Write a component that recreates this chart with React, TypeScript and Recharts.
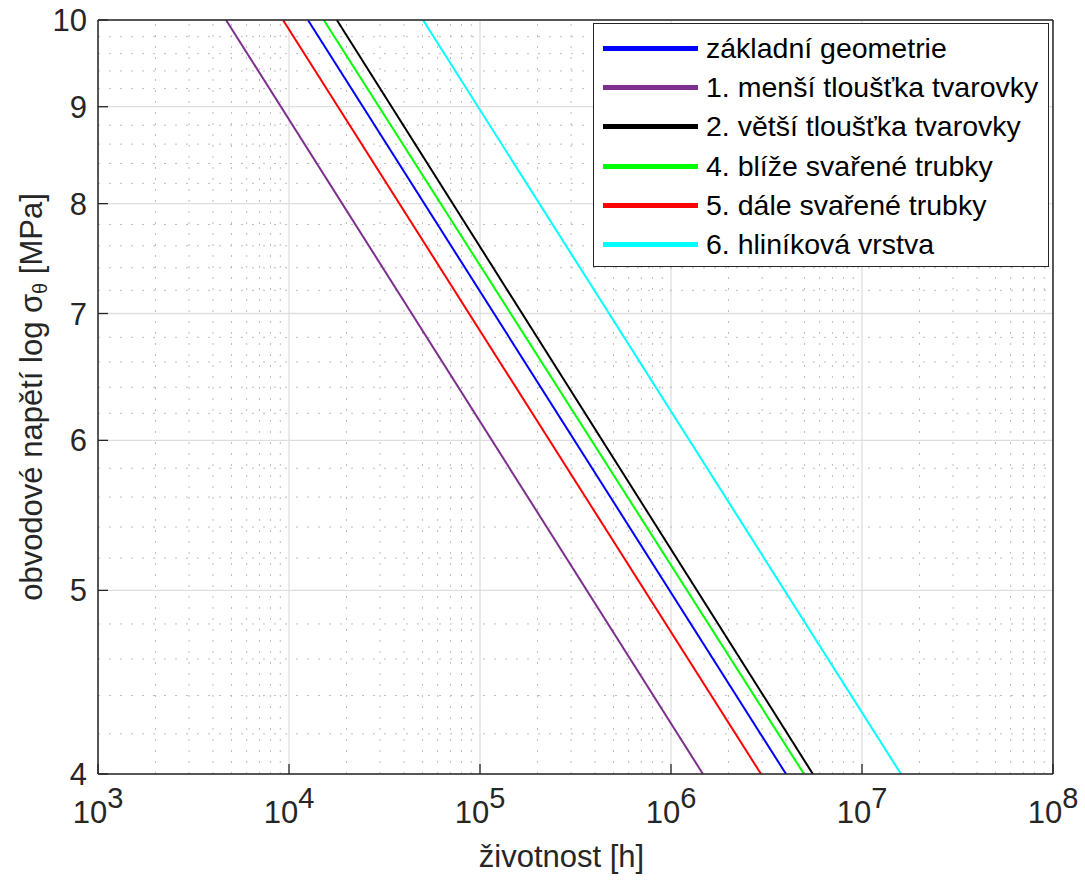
import { LineChart, Line, XAxis, YAxis, CartesianGrid, Legend, Label, ReferenceLine } from 'recharts';

const FONT = '"Liberation Sans", Arial, Helvetica, sans-serif';
const AXIS = '#262626';

// stress levels (MPa) at which the curves enter / leave the plot
const stressLevels = [10, 4];

// lifetime [h] read at those stress levels
const lifeBasic = [12560, 4.0e6];
const lifeThinner = [4680, 1.47e6];
const lifeThicker = [17800, 5.53e6];
const lifeCloser = [15200, 4.97e6];
const lifeFarther = [9300, 2.96e6];
const lifeAluminium = [50300, 1.6e7];

const seriesNames = [
  'základní geometrie',
  '1. menší tloušťka tvarovky',
  '2. větší tloušťka tvarovky',
  '4. blíže svařené trubky',
  '5. dále svařené trubky',
  '6. hliníková vrstva',
];
const seriesLife = [lifeBasic, lifeThinner, lifeThicker, lifeCloser, lifeFarther, lifeAluminium];
const seriesColors = ['#0000ff', '#7e2f8e', '#000000', '#00ff00', '#ff0000', '#00ffff'];

const xMajorTicks = [1e3, 1e4, 1e5, 1e6, 1e7, 1e8];
const xMinorTicks = [1e3, 1e4, 1e5, 1e6, 1e7].flatMap((d) => [2, 3, 4, 5, 6, 7, 8, 9].map((m) => m * d));
const yMajorTicks = [4, 5, 6, 7, 8, 9, 10];
const yMinorTicks = [4.2, 4.4, 4.6, 4.8, 5.2, 5.4, 5.6, 5.8, 6.2, 6.4, 6.6, 6.8, 7.2, 7.4, 7.6, 7.8, 8.2, 8.4, 8.6, 8.8, 9.2, 9.4, 9.6, 9.8];

const series = seriesNames.map((name, i) => ({
  name,
  color: seriesColors[i],
  data: stressLevels.map((s, j) => ({ x: seriesLife[i][j], y: s })),
}));

function PowerTick(props: any) {
  const { x, y, payload } = props;
  const exp = Math.round(Math.log10(payload.value));
  return (
    <text x={x} y={y + 39} textAnchor="middle" fill={AXIS} fontSize={31} fontFamily={FONT}>
      <tspan>10</tspan>
      <tspan dy={-15} fontSize={29}>{exp}</tspan>
    </text>
  );
}

function YTitle(props: any) {
  const vb = props.viewBox || { x: 98, y: 20, width: 0, height: 754 };
  const cx = vb.x + vb.width - 56;
  const cy = vb.y + vb.height / 2;
  return (
    <text x={cx} y={cy} transform={`rotate(-90 ${cx} ${cy})`} textAnchor="middle" fill={AXIS} fontSize={31} fontFamily={FONT}>
      <tspan>obvodové napětí log σ</tspan>
      <tspan dy={5} fontSize={20}>θ</tspan>
      <tspan dy={-5}> [MPa]</tspan>
    </text>
  );
}

function XTitle(props: any) {
  const vb = props.viewBox || { x: 98, y: 774, width: 955, height: 0 };
  return (
    <text x={vb.x + vb.width / 2 - 14} y={vb.y + 93} textAnchor="middle" fill={AXIS} fontSize={31} fontFamily={FONT}>
      životnost [h]
    </text>
  );
}

function LegendBox(props: any) {
  const items = [...(props.payload || [])].sort(
    (a: any, b: any) => seriesNames.indexOf(a.value) - seriesNames.indexOf(b.value),
  );
  return (
    <div
      style={{
        boxSizing: 'border-box',
        width: 456,
        height: 244,
        border: `1.5px solid ${AXIS}`,
        background: '#fff',
        paddingTop: 5,
        fontFamily: FONT,
        fontSize: 28.5,
        color: '#000',
      }}
    >
      {items.map((it: any) => (
        <div key={it.value} style={{ display: 'flex', alignItems: 'center', height: 39.2 }}>
          <div style={{ width: 95, height: 5, marginLeft: 9, background: it.color }} />
          <span style={{ marginLeft: 8, whiteSpace: 'nowrap' }}>{it.value}</span>
        </div>
      ))}
    </div>
  );
}

const THIN = 0.01;

export default function App() {
  const common = { type: 'number' as const, scale: 'log' as const, allowDataOverflow: true, interval: 0 as const };
  const tickLine = { stroke: AXIS, strokeWidth: 1.3 };
  const axisLine = { stroke: AXIS, strokeWidth: 1.5 };
  return (
    <div style={{ position: 'absolute', left: 0, top: 0, background: '#fff' }}>
      <LineChart width={1085} height={881} margin={{ top: 20, right: 32, bottom: 107, left: 98 }}>
        <XAxis xAxisId="x" dataKey="x" {...common} domain={[1e3, 1e8]} ticks={xMajorTicks} height={THIN}
          orientation="bottom" tickSize={-10} tickMargin={20} tick={<PowerTick />}
          axisLine={axisLine} tickLine={tickLine}>
          <Label content={<XTitle />} />
        </XAxis>
        <XAxis xAxisId="xm" dataKey="x" {...common} domain={[1e3, 1e8]} ticks={xMinorTicks} height={THIN}
          orientation="bottom" tickSize={-5} tick={false} axisLine={false} tickLine={tickLine} />
        <XAxis xAxisId="xt" dataKey="x" {...common} domain={[1e3, 1e8]} ticks={xMajorTicks} height={THIN}
          orientation="top" tickSize={-10} tick={false} axisLine={axisLine} tickLine={tickLine} />
        <XAxis xAxisId="xtm" dataKey="x" {...common} domain={[1e3, 1e8]} ticks={xMinorTicks} height={THIN}
          orientation="top" tickSize={-5} tick={false} axisLine={false} tickLine={tickLine} />

        <YAxis yAxisId="y" dataKey="y" {...common} domain={[4, 10]} ticks={yMajorTicks} width={THIN}
          orientation="left" tickSize={-10} tickMargin={21}
          tick={{ fontSize: 31, fill: AXIS, fontFamily: FONT }}
          axisLine={axisLine} tickLine={tickLine}>
          <Label content={<YTitle />} />
        </YAxis>
        <YAxis yAxisId="ym" dataKey="y" {...common} domain={[4, 10]} ticks={yMinorTicks} width={THIN}
          orientation="left" tickSize={-5} tick={false} axisLine={false} tickLine={tickLine} />
        <YAxis yAxisId="yr" dataKey="y" {...common} domain={[4, 10]} ticks={yMajorTicks} width={THIN}
          orientation="right" tickSize={-10} tick={false} axisLine={axisLine} tickLine={tickLine} />
        <YAxis yAxisId="yrm" dataKey="y" {...common} domain={[4, 10]} ticks={yMinorTicks} width={THIN}
          orientation="right" tickSize={-5} tick={false} axisLine={false} tickLine={tickLine} />

        {xMinorTicks.map((v) => (
          <ReferenceLine key={`vx${v}`} xAxisId="x" yAxisId="y" x={v} stroke="#bdbdbd" strokeWidth={1} strokeDasharray="2 9" ifOverflow="hidden" />
        ))}
        {yMinorTicks.map((v) => (
          <ReferenceLine key={`hy${v}`} xAxisId="x" yAxisId="y" y={v} stroke="#bdbdbd" strokeWidth={1} strokeDasharray="2 9" ifOverflow="hidden" />
        ))}
        <CartesianGrid xAxisId="x" yAxisId="y" stroke="#dedede" strokeWidth={1.3} />

        {series.map((s) => (
          <Line key={s.name} xAxisId="x" yAxisId="y" data={s.data} dataKey="y" name={s.name} type="linear"
            stroke={s.color} strokeWidth={2} dot={false} activeDot={false} isAnimationActive={false} />
        ))}

        <Legend layout="vertical" align="center" verticalAlign="middle" content={<LegendBox />}
          wrapperStyle={{ left: 593, top: 23, width: 456, height: 244 }} />
      </LineChart>
    </div>
  );
}
